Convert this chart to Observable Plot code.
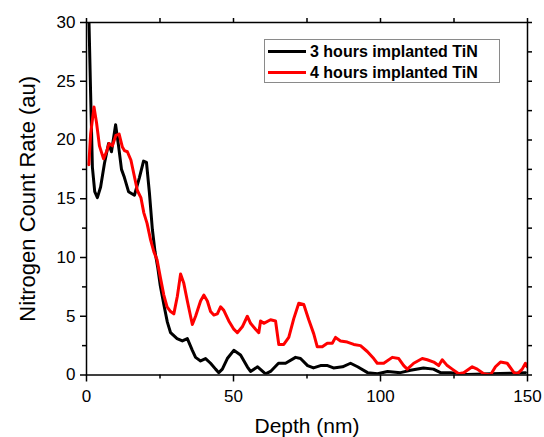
<!DOCTYPE html>
<html><head><meta charset="utf-8">
<script src="https://cdn.jsdelivr.net/npm/d3@7"></script>
<script src="https://cdn.jsdelivr.net/npm/@observablehq/plot@0.6"></script>
<style>
html,body{margin:0;padding:0;background:#fff;}
#chart{position:relative;width:544px;height:437px;font-family:"Liberation Sans",Arial,sans-serif;}
#legend{position:absolute;left:264px;top:39px;width:236px;height:44px;border:1px solid #8a8a8a;box-sizing:border-box;background:#fff;font-weight:bold;font-size:16px;color:#000;}
.row{display:flex;align-items:center;height:21px;white-space:nowrap;}
.sw{width:38px;height:3px;margin-left:3px;margin-right:4px;}
</style></head>
<body><div id="chart"><div id="legend"></div></div>
<script>
const depth3 = [0.3,0.85,1.4,2.0,2.8,3.7,4.8,6.1,7.5,8.5,9.9,10.9,11.9,12.9,14.3,16.3,18.0,19.4,20.4,21.4,22.4,23.3,24.2,25.1,26.3,27.5,28.6,30.8,32.6,34.3,36.0,37.1,38.8,40.5,42.2,43.9,45.0,46.2,47.9,50.1,52.4,54.7,55.8,58.2,60.9,62.6,65.3,67.7,71.1,72.8,75.2,77.2,79.6,82.0,84.0,87.1,89.8,92.2,95.6,99.0,102.4,106.8,110.2,114.6,118.0,120.4,123.8,129.6,137.4,144.2,149.3];
const rate3 = [34,30,24,17.7,15.6,15.1,16.0,18.0,19.7,19.0,21.3,19.5,17.5,16.8,15.6,15.3,16.8,18.2,18.1,15.5,12.4,10.5,9.2,7.6,6.0,4.5,3.6,3.1,2.9,3.1,2.1,1.5,1.2,1.4,1.0,0.5,0.2,0.5,1.4,2.1,1.7,0.7,0.3,0.7,0.1,0.3,1.0,1.0,1.5,1.4,0.8,0.6,0.8,0.8,0.6,0.7,1.0,0.7,0.2,0.1,0.3,0.2,0.4,0.6,0.5,0.2,0.2,0.05,0.1,0.15,0.2];

const depth4 = [0.8,1.4,2.55,3.4,4.4,5.8,6.8,7.7,8.8,10.0,11.1,12.2,12.9,13.9,15.1,16.2,17.3,18.5,19.5,20.6,21.8,22.9,24.0,25.2,26.3,27.4,28.6,29.7,30.9,32.0,33.1,34.3,35.4,36.0,37.1,38.8,39.9,41.1,42.2,43.3,44.5,45.6,46.7,48.4,50.1,51.3,53.0,54.7,55.8,57.5,58.6,59.2,60.3,62.6,64.3,65.4,67.1,68.8,70.5,72.2,73.9,75.6,77.3,78.5,80.2,81.9,83.6,84.7,86.4,88.7,90.9,93.2,95.5,97.7,98.9,101.1,104.0,106.2,107.9,109.1,111.3,114.2,115.9,118.1,119.8,121.0,122.7,124.4,126.6,128.3,131.2,132.9,135.1,137.4,139.1,140.8,143.1,145.4,146.5,148.2,149.3,149.9];
const rate4 = [17.9,20.5,22.8,21.5,19.5,18.4,19.0,19.7,19.5,20.4,20.5,19.4,19.1,19.0,18.3,17.0,15.7,15.1,13.8,12.9,11.5,10.5,9.8,8.2,6.8,5.8,5.4,5.2,6.7,8.6,7.8,6.3,5.0,4.3,5.0,6.3,6.8,6.3,5.4,5.1,5.2,5.8,5.5,4.6,3.9,3.6,4.1,5.0,4.4,3.9,3.6,4.6,4.4,4.7,4.6,2.6,2.6,3.2,4.8,6.1,6.0,4.7,3.5,2.4,2.4,2.7,2.7,3.2,2.9,2.8,2.6,2.5,2.0,1.4,1.0,1.0,1.5,1.4,0.8,0.5,1.0,1.4,1.3,1.1,0.8,1.3,0.8,0.5,0.1,0.2,0.7,0.5,0.1,0.0,0.7,1.1,1.0,0.2,0.1,0.5,1.0,0.7];

const seriesNames = ["3 hours implanted TiN", "4 hours implanted TiN"];
const seriesColors = ["#000000", "#ff0000"];
const xTicks = [0, 50, 100, 150];
const xMinorTicks = [25, 75, 125];
const yTicks = [0, 5, 10, 15, 20, 25, 30];
const yMinorTicks = [2.5, 7.5, 12.5, 17.5, 22.5, 27.5];
const xLabel = "Depth (nm)";
const yLabel = "Nitrogen Count Rate (au)";

const rows = [
  ...depth3.map((d, i) => ({depth: d, rate: rate3[i], series: seriesNames[0]})),
  ...depth4.map((d, i) => ({depth: d, rate: rate4[i], series: seriesNames[1]}))
];

const font = "'Liberation Sans', Arial, sans-serif";
const plot = Plot.plot({
  width: 544, height: 437,
  marginLeft: 86, marginRight: 17, marginTop: 22, marginBottom: 62.5,
  style: {fontFamily: font, fontSize: "17px", color: "#000", background: "#fff"},
  x: {domain: [0, 150], label: null},
  y: {domain: [0, 30], label: null},
  color: {domain: seriesNames, range: seriesColors},
  marks: [
    Plot.line(rows, {x: "depth", y: "rate", z: "series", stroke: "series", strokeWidth: 3, clip: true, strokeLinejoin: "round"}),
    Plot.frame({stroke: "#000", strokeWidth: 1.5}),
    Plot.axisX({ticks: xTicks, tickSize: 7, tickPadding: 8, strokeWidth: 1.5, fontSize: 17}),
    Plot.axisX({ticks: xMinorTicks, tickSize: 4, tickFormat: () => "", strokeWidth: 1.5}),
    Plot.axisX({anchor: "top", ticks: [...xTicks, ...xMinorTicks], tickSize: 5, tickFormat: () => "", strokeWidth: 1.5}),
    Plot.axisY({ticks: yTicks, tickSize: 6, tickPadding: 5, strokeWidth: 1.5, fontSize: 17}),
    Plot.axisY({ticks: yMinorTicks, tickSize: 4, tickFormat: () => "", strokeWidth: 1.5}),
    Plot.axisY({anchor: "right", ticks: [...yTicks, ...yMinorTicks], tickSize: 4, tickFormat: () => "", strokeWidth: 1.5}),
    Plot.text([xLabel], {frameAnchor: "bottom", text: d => d, dy: 58, lineAnchor: "bottom", textAnchor: "middle", fontSize: 21}),
    Plot.text([yLabel], {frameAnchor: "left", text: d => d, rotate: -90, dx: -59, lineAnchor: "middle", textAnchor: "middle", fontSize: 22})
  ]
});
const chart = document.getElementById("chart");
chart.insertBefore(plot, chart.firstChild);

const legend = document.getElementById("legend");
legend.style.paddingTop = "1px";
seriesNames.forEach((name, i) => {
  const row = document.createElement("div");
  row.className = "row";
  const sw = document.createElement("div");
  sw.className = "sw";
  sw.style.background = seriesColors[i];
  const t = document.createElement("span");
  t.textContent = name;
  row.appendChild(sw); row.appendChild(t);
  legend.appendChild(row);
});
</script>
</body></html>
